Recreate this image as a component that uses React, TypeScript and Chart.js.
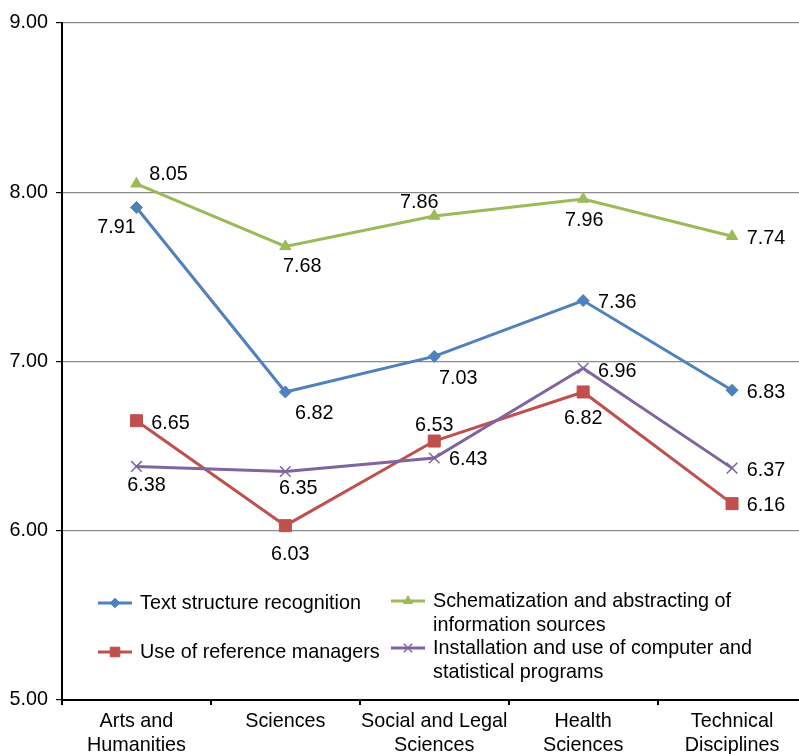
import React, { useEffect, useRef } from 'react';
import { Chart, registerables } from 'chart.js';
import { drawPoint } from 'chart.js/helpers';

Chart.register(...registerables);

// ---- data ----
const categories: string[][] = [
  ['Arts and', 'Humanities'],
  ['Sciences'],
  ['Social and Legal', 'Sciences'],
  ['Health', 'Sciences'],
  ['Technical', 'Disciplines'],
];
const seriesNames = [
  'Text structure recognition',
  'Schematization and abstracting of information sources',
  'Use of reference managers',
  'Installation and use of computer and statistical programs',
];
const textStructure = [7.91, 6.82, 7.03, 7.36, 6.83];
const schematization = [8.05, 7.68, 7.86, 7.96, 7.74];
const referenceManagers = [6.65, 6.03, 6.53, 6.82, 6.16];
const computerPrograms = [6.38, 6.35, 6.43, 6.96, 6.37];
const yTicks = [5, 6, 7, 8, 9];

// ---- styles ----
const FONT = "'Liberation Sans', Arial, Helvetica, sans-serif";
const FS = 19.8;
const colors = ['#4F81BD', '#9BBB59', '#C0504D', '#8064A2'];
const pointStyles = ['rectRot', 'triangle', 'rect', 'crossRot'];
const pointRadii = [6, 6.5, 8.5, 7.5];
const pointBorderWidths = [1, 1, 1, 1.5];
// label centre offsets relative to each point
const labelOffsets: number[][][] = [
  [[-20, 18], [29, 20], [24, 20], [34, 0], [34, 0]],
  [[32, -11], [17, 18], [-15, -15], [1, 20], [34, 0]],
  [[34, 1], [5, 27], [0, -18], [0, 25], [34, 0]],
  [[10, 17], [13, 15], [34, 0], [34, 1], [34, 0]],
];
const LABEL_DY = 2;
const legendSlots = [
  { x: 98, y: 603 },
  { x: 391, y: 601 },
  { x: 98, y: 652 },
  { x: 391, y: 648 },
];

const CANVAS_W = 816;
const CANVAS_H = 790;

const labelPlugin = {
  id: 'valueLabels',
  afterDatasetsDraw(chart: any) {
    const ctx = chart.ctx;
    ctx.save();
    ctx.font = `${FS}px ${FONT}`;
    ctx.fillStyle = '#000';
    ctx.textAlign = 'center';
    ctx.textBaseline = 'middle';
    chart.data.datasets.forEach((ds: any, i: number) => {
      const meta = chart.getDatasetMeta(i);
      meta.data.forEach((pt: any, j: number) => {
        const [dx, dy] = labelOffsets[i][j];
        ctx.fillText(Number(ds.data[j]).toFixed(2), pt.x + dx, pt.y + dy + LABEL_DY);
      });
    });
    ctx.restore();
  },
};

function wrap(ctx: CanvasRenderingContext2D, text: string, maxW: number): string[] {
  const words = text.split(' ');
  const lines: string[] = [];
  let cur = '';
  for (const w of words) {
    const t = cur ? cur + ' ' + w : w;
    if (ctx.measureText(t).width > maxW && cur) {
      lines.push(cur);
      cur = w;
    } else cur = t;
  }
  if (cur) lines.push(cur);
  return lines;
}

const legendPlugin = {
  id: 'insideLegend',
  afterDraw(chart: any) {
    const ctx = chart.ctx;
    ctx.save();
    ctx.font = `${FS}px ${FONT}`;
    ctx.textAlign = 'left';
    ctx.textBaseline = 'middle';
    chart.data.datasets.forEach((ds: any, i: number) => {
      const slot = legendSlots[i];
      ctx.strokeStyle = colors[i];
      ctx.lineWidth = 3;
      ctx.beginPath();
      ctx.moveTo(slot.x, slot.y);
      ctx.lineTo(slot.x + 34, slot.y);
      ctx.stroke();
      ctx.fillStyle = colors[i];
      ctx.lineWidth = pointBorderWidths[i];
      drawPoint(ctx, { pointStyle: pointStyles[i], radius: pointRadii[i] * 0.8, rotation: 0, borderWidth: pointBorderWidths[i] } as any, slot.x + 17, slot.y);
      ctx.fillStyle = '#000';
      const lines = wrap(ctx, ds.label, 360);
      lines.forEach((ln, k) => ctx.fillText(ln, slot.x + 42, slot.y + 1 + k * 23.5));
    });
    ctx.restore();
  },
};

export default function App() {
  const ref = useRef<HTMLCanvasElement | null>(null);
  useEffect(() => {
    if (!ref.current) return;
    const seriesData = [textStructure, schematization, referenceManagers, computerPrograms];
    const chart = new Chart(ref.current, {
      type: 'line',
      data: {
        labels: categories,
        datasets: seriesData.map((d, i) => ({
          label: seriesNames[i],
          data: d,
          borderColor: colors[i],
          backgroundColor: colors[i],
          borderWidth: 3,
          pointStyle: pointStyles[i] as any,
          pointRadius: pointRadii[i],
          pointBackgroundColor: colors[i],
          pointBorderColor: colors[i],
          pointBorderWidth: pointBorderWidths[i],
          tension: 0,
          order: 4 - i,
        })),
      },
      options: {
        responsive: false,
        animation: false,
        devicePixelRatio: 1,
        layout: { padding: { left: 0, top: 23, right: 2, bottom: 0 } },
        plugins: { legend: { display: false }, tooltip: { enabled: false } },
        scales: {
          x: {
            type: 'category',
            offset: true,
            border: { display: true, color: '#000', width: 2 },
            grid: { display: true, offset: true, drawOnChartArea: false, tickLength: 5, color: '#000', lineWidth: 2 },
            ticks: { color: '#000', font: { family: FONT, size: FS, lineHeight: 1.18 }, padding: 5, maxRotation: 0, autoSkip: false },
            afterFit: (s: any) => { s.height = CANVAS_H - 700; },
          },
          y: {
            min: 5,
            max: 9,
            afterBuildTicks: (s: any) => { s.ticks = yTicks.map((v) => ({ value: v })); },
            border: { display: true, color: '#000', width: 2 },
            grid: {
              color: (c: any) => (c.tick && c.tick.value === 5 ? 'rgba(0,0,0,0)' : '#8c8c8c'),
              tickColor: '#000',
              tickLength: 6,
              lineWidth: 1.2,
            },
            ticks: {
              color: '#000',
              padding: 8,
              font: { family: FONT, size: FS },
              callback: (v: any) => Number(v).toFixed(2),
            },
            afterFit: (s: any) => { s.width = 62; },
          },
        },
      },
      plugins: [labelPlugin, legendPlugin],
    });
    return () => chart.destroy();
  }, []);
  return (
    <div style={{ position: 'fixed', left: 0, top: 0, width: 799, height: 754, overflow: 'hidden', background: '#fff' }}>
      <canvas ref={ref} width={CANVAS_W} height={CANVAS_H} style={{ display: 'block', width: CANVAS_W, height: CANVAS_H }} />
    </div>
  );
}
